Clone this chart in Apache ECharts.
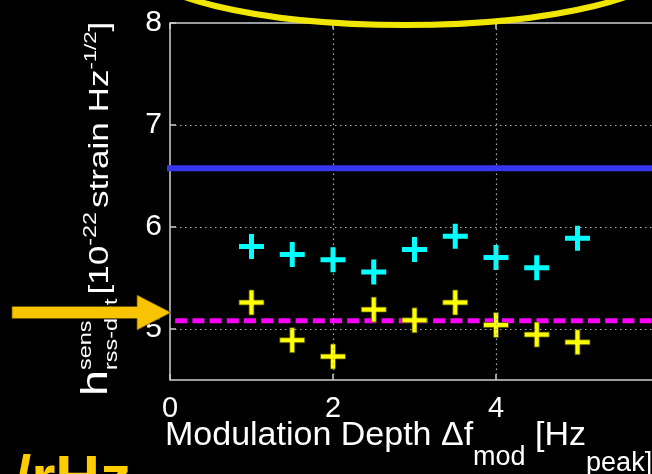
<!DOCTYPE html>
<html>
<head>
<meta charset="utf-8">
<script src="https://cdn.jsdelivr.net/npm/echarts@6/dist/echarts.min.js"></script>
<style>
  html, body { margin: 0; padding: 0; background: #000; }
  #chart { width: 652px; height: 474px; }
</style>
</head>
<body>
<div id="chart"></div>
<script>
// Modulation depth (Hz) of each injection
const modDepth = [1, 1.5, 2, 2.5, 3, 3.5, 4, 4.5, 5];
// Sensitivity estimates, two search configurations (1e-22 strain Hz^-1/2)
const sensCyan = [5.81, 5.73, 5.68, 5.56, 5.78, 5.91, 5.70, 5.60, 5.89];
const sensYellow = [5.26, 4.89, 4.73, 5.19, 5.085, 5.26, 5.04, 4.945, 4.87];
// Horizontal reference levels
const meanLevel = 5.08;
const refLevel = 6.575;
// Axis ticks and dotted grid positions
const xTicks = [0, 2, 4, 6];
const yTicks = [5, 6, 7, 8];
const xGrid = [2, 4];
const yGrid = [5, 6, 7];

const FONT = '"Liberation Sans", Arial, Helvetica, sans-serif';
const measureCtx = document.createElement('canvas').getContext('2d');
function textWidth(t, font) { measureCtx.font = font; return measureCtx.measureText(t).width; }

// Lay out a run of text pieces along a baseline; pieces may be raised/lowered and stacked.
function textRun(pieces, x0, base, color, weight) {
  const els = [];
  let x = x0;
  pieces.forEach(p => {
    const group = Array.isArray(p) ? p : [p];
    let adv = 0;
    group.forEach(q => {
      const font = (weight || 'normal') + ' ' + q.size + 'px ' + FONT;
      els.push({
        type: 'text',
        x: x,
        y: base + (q.dy || 0) - 0.3465 * q.size,
        style: {
          text: q.t, font: font, fill: color,
          align: 'left', verticalAlign: 'middle',
          textAlign: 'left', textVerticalAlign: 'middle'
        }
      });
      adv = Math.max(adv, textWidth(q.t, font) + (q.gap || 0));
    });
    x += adv;
  });
  return els;
}

const chart = echarts.init(document.getElementById('chart'), null, { renderer: 'canvas' });

const plusPath = 'path://M10,0H15V10H25V15H15V25H10V15H0V10H10Z';
const toPairs = (xs, ys) => xs.map((x, i) => [x, ys[i]]);

// Y-axis title, written horizontally and turned upright
const yTitle = textRun([
  { t: 'h', size: 36 },
  [{ t: 'sens', size: 18, dy: -18, gap: 3 }, { t: 'rss-det', size: 18, dy: 8, gap: 3 }],
  { t: '[10', size: 27 },
  { t: '-22', size: 18, dy: -13, gap: 3 },
  { t: 'strain Hz', size: 27 },
  { t: '-1/2', size: 17, dy: -13 },
  { t: ']', size: 27 }
], 0, 0, '#fff');

// X-axis title
const xTitle = textRun([
  { t: 'Modulation Depth \u0394f', size: 34 },
  { t: 'mod', size: 27, dy: 20 },
  { t: ' [Hz', size: 34 },
  { t: 'peak]', size: 27, dy: 26 }
], 165, 447, '#fff');

const option = {
  backgroundColor: '#000',
  animation: false,
  grid: {
    left: 170, top: 23, bottom: 94, right: -7,
    outerBoundsMode: 'none', containLabel: false,
    show: true, borderColor: '#cfcfcf', borderWidth: 1.5, backgroundColor: 'transparent'
  },
  xAxis: [{
    type: 'value', min: 0, max: 6, interval: 2,
    axisLine: { show: false },
    axisTick: { show: true, inside: true, length: 6, lineStyle: { color: '#cfcfcf', width: 1.5 } },
    axisLabel: { color: '#fff', fontSize: 29, fontFamily: FONT, margin: 14,
      formatter: v => (xTicks.indexOf(v) >= 0 ? String(v) : '') },
    splitLine: { show: false }
  }, {
    type: 'value', min: 0, max: 6, interval: 2, position: 'top',
    axisLine: { show: false },
    axisTick: { show: true, inside: true, length: 6, lineStyle: { color: '#cfcfcf', width: 1.5 } },
    axisLabel: { show: false },
    splitLine: { show: false }
  }],
  yAxis: {
    type: 'value', min: 4.5, max: 8,
    axisLine: { show: false },
    axisTick: { show: true, inside: true, length: 6, customValues: yTicks,
      lineStyle: { color: '#cfcfcf', width: 1.5 } },
    axisLabel: { color: '#fff', fontSize: 30, fontFamily: FONT, margin: 8, customValues: yTicks },
    splitLine: { show: false }
  },
  series: [
    {
      // dotted grid
      type: 'line', data: [], z: 1, silent: true,
      markLine: {
        symbol: 'none', silent: true, label: { show: false }, animation: false,
        lineStyle: { type: [1.5, 3.5], color: '#b0b0b0', width: 1.2 },
        data: xGrid.map(v => ({ xAxis: v })).concat(yGrid.map(v => ({ yAxis: v })))
      }
    },
    {
      type: 'line', z: 3, silent: true, showSymbol: false,
      data: [[0, meanLevel], [6, meanLevel]],
      lineStyle: { color: '#ff00ff', width: 5, type: [12, 5.2], dashOffset: 12 }
    },
    {
      type: 'scatter', z: 4, symbol: plusPath, symbolSize: 25,
      data: toPairs(modDepth, sensCyan),
      itemStyle: { color: '#00ffff', opacity: 1 }
    },
    {
      type: 'scatter', z: 4, symbol: plusPath, symbolSize: 25,
      data: toPairs(modDepth, sensYellow),
      itemStyle: { color: '#ffff00', opacity: 1, borderColor: '#4a4a00', borderWidth: 0.8 }
    },
    {
      type: 'line', z: 10, silent: true, showSymbol: false, clip: false,
      data: [[-2.3, refLevel], [6.3, refLevel]],
      lineStyle: { color: '#3737f0', width: 6 }
    }
  ],
  graphic: [
    { type: 'group', x: 110, y: 396, rotation: Math.PI / 2, scaleX: 1.3, z: 5, children: yTitle },
    { type: 'group', z: 5, children: xTitle },
    {
      type: 'ellipse', z: 20,
      shape: { cx: 405, cy: -40, rx: 268, ry: 65 },
      style: { fill: 'none', stroke: '#f0e600', lineWidth: 6 }
    },
    {
      type: 'polygon', z: 30,
      shape: { points: [[12, 306.5], [137, 306.5], [137, 295], [171, 312.5], [137, 330], [137, 318.5], [12, 318.5]] },
      style: { fill: '#f8c400', stroke: '#6a5000', lineWidth: 0.8 }
    },
    {
      type: 'text', z: 30, x: 14, y: 502 - 0.3465 * 62,
      style: { text: '/rHz', font: 'bold 62px ' + FONT, fill: '#ffcc00',
        align: 'left', verticalAlign: 'middle', textAlign: 'left', textVerticalAlign: 'middle' }
    }
  ]
};

chart.setOption(option);
</script>
</body>
</html>
